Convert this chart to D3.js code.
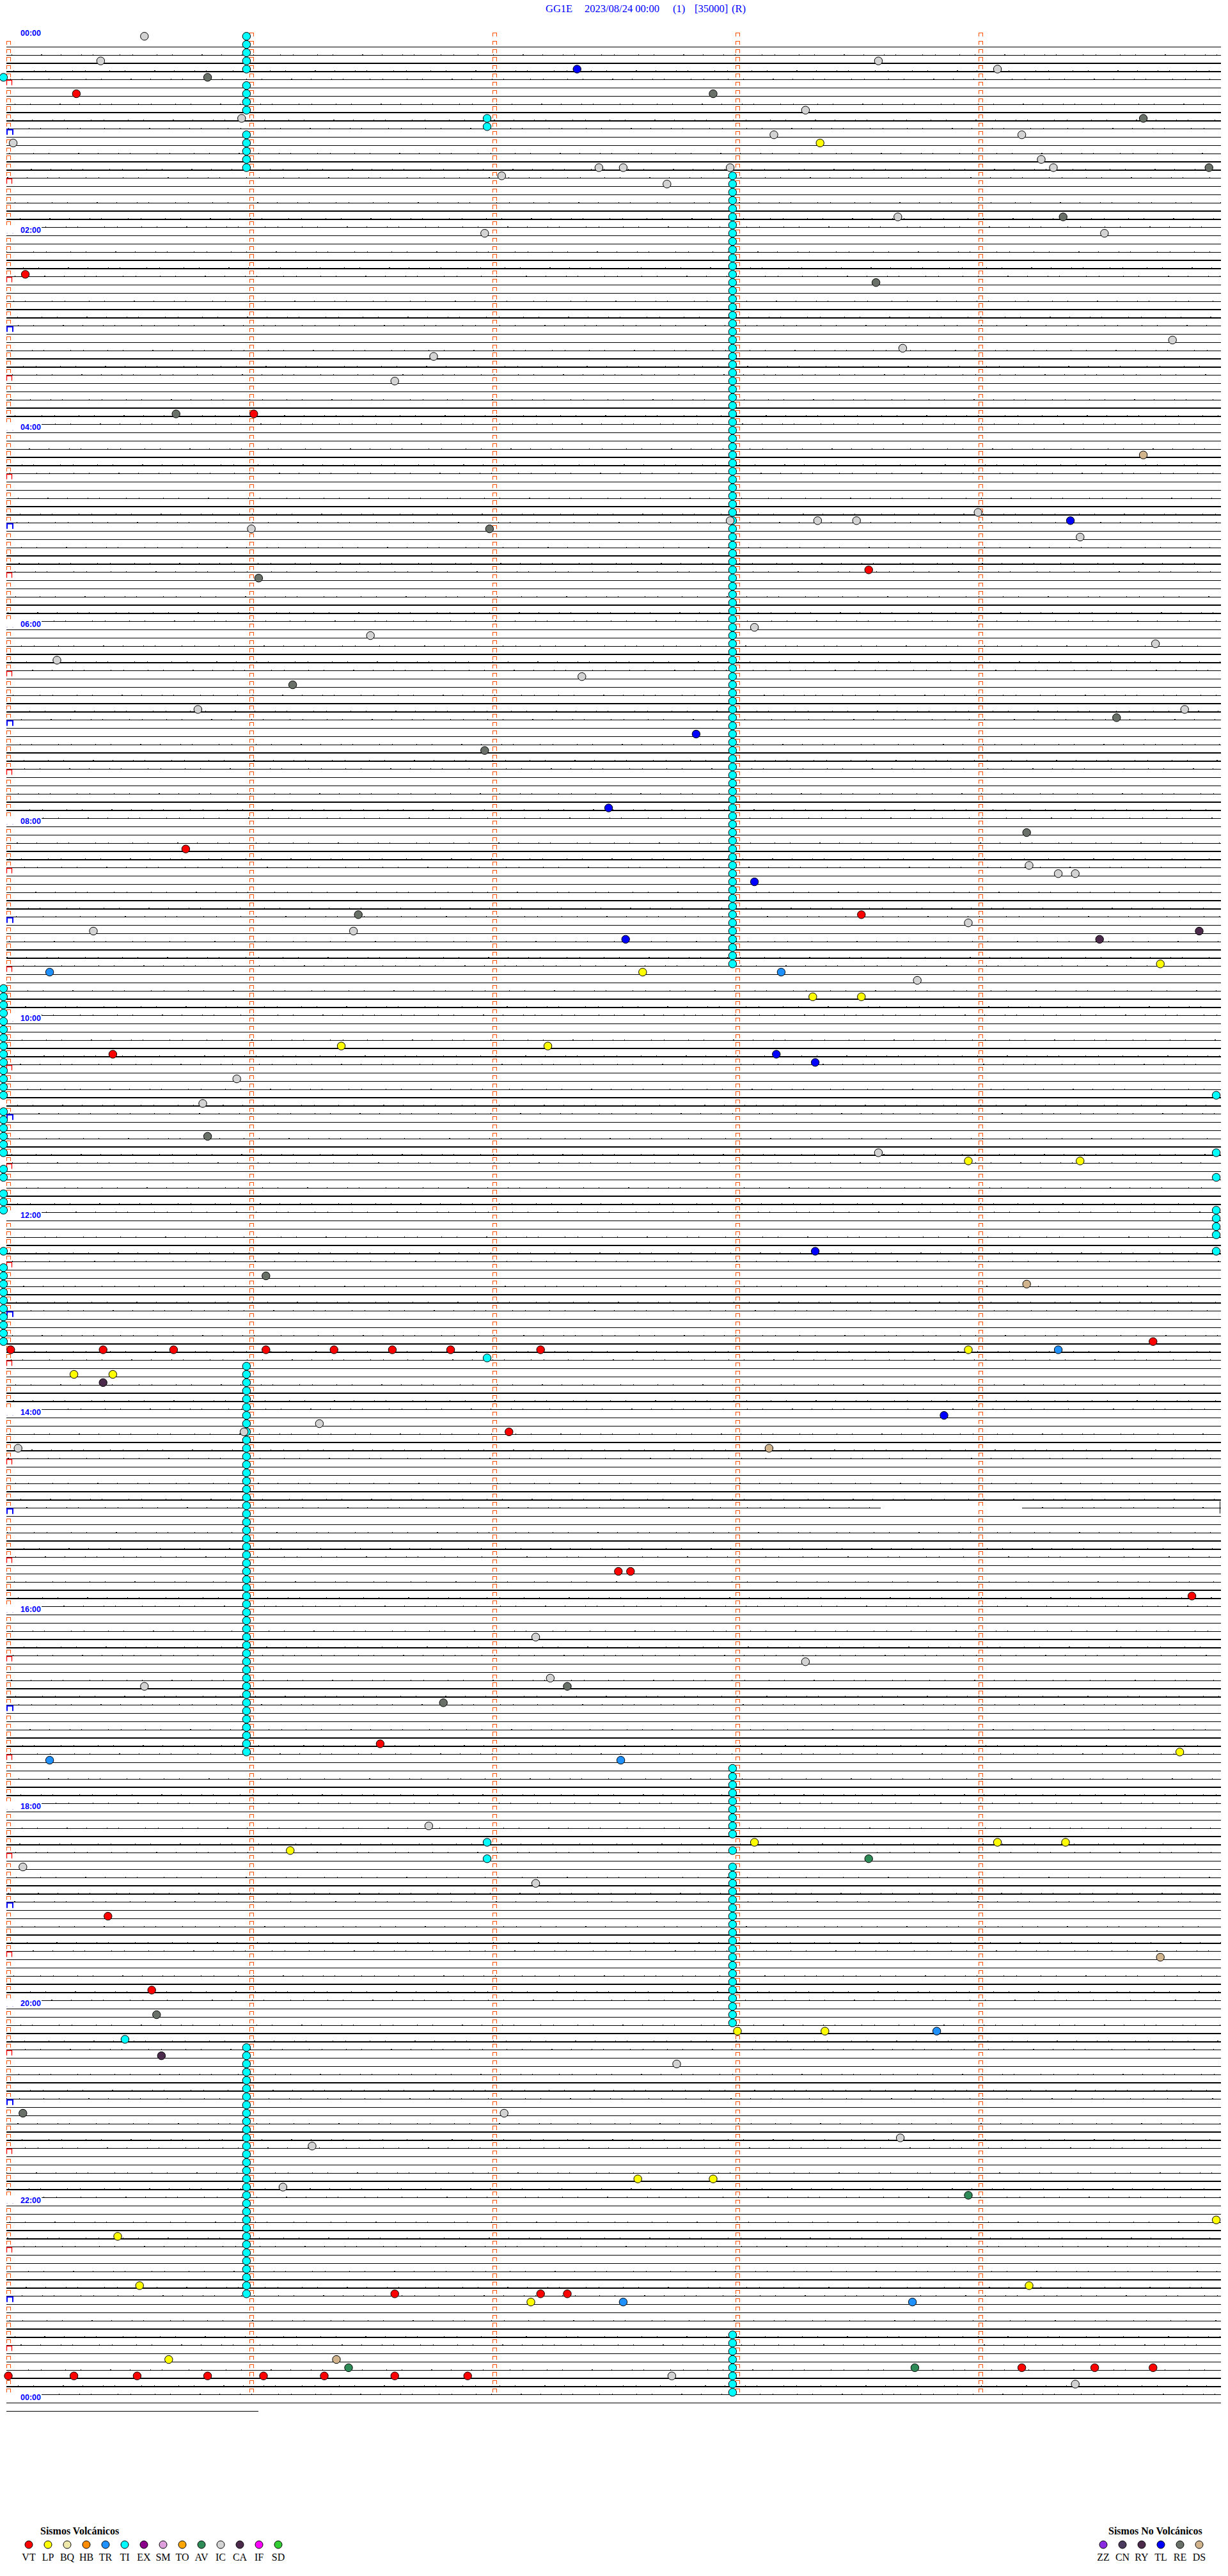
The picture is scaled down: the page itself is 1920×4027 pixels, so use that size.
<!DOCTYPE html>
<html><head><meta charset="utf-8">
<script src="https://cdn.jsdelivr.net/npm/d3@7"></script>
<style>html,body{margin:0;padding:0;background:#fff}svg{display:block}</style>
</head><body>
<script>
// ---------------- DATA ----------------
const titleParts = ["GG1E", "2023/08/24 00:00", "(1)", "[35000]", "(R)"];
const hourLabels = ["00:00","02:00","04:00","06:00","08:00","10:00","12:00","14:00","16:00","18:00","20:00","22:00","00:00"];
const minuteTicks = [0, 1, 2, 3, 4];

const volcanicTypes  = ["VT","LP","BQ","HB","TR","TI","EX","SM","TO","AV","IC","CA","IF","SD"];
const volcanicColors = ["#ff0000","#ffff00","#eee8aa","#ff8c00","#1e90ff","#00ffff","#8b008b","#dda0dd","#ffa500","#2e8b57","#d3d3d3","#4b2a4b","#ff00ff","#32cd32"];
const nonVolcanicTypes  = ["ZZ","CN","RY","TL","RE","DS"];
const nonVolcanicColors = ["#8a2be2","#4a3a5e","#4b2a4b","#0000ff","#687068","#d2b48c"];

// events: [row (5-minute line index from 00:00), minute within the row]
const VT = [[7,0.28],[29,0.07],[46,1.01],[65,3.54],[99,0.73],[107,3.51],[124,0.43],[159,4.71],
  [160,0.01],[160,0.39],[160,0.68],[160,1.06],[160,1.34],[160,1.58],[160,1.82],[160,2.19],
  [170,2.06],[187,2.51],[187,2.56],[190,4.87],[208,1.53],[229,0.41],[238,0.59],
  [275,1.59],[275,2.19],[275,2.30],[284,4.17],[284,4.47],[284,4.71],
  [285,0.0],[285,0.27],[285,0.53],[285,0.82],[285,1.05],[285,1.30],[285,1.59],[285,1.89]];
const LP = [[13,3.34],[113,4.74],[114,2.61],[117,3.31],[117,3.51],[123,1.37],[123,2.22],[137,3.95],[137,4.41],
  [160,3.95],[163,0.27],[163,0.43],[209,4.82],[220,3.07],[221,1.16],[220,4.07],[220,4.35],
  [243,3.0],[243,3.36],[261,2.59],[261,2.9],[266,4.97],[268,0.45],[274,0.54],[274,4.2],[276,2.15],[283,0.66]];
const TR = [[114,0.17],[114,3.18],[160,4.32],[210,0.17],[210,2.52],[243,3.82],[276,2.53],[276,3.72]];
const TL = [[4,2.34],[59,4.37],[85,2.83],[94,2.47],[103,3.07],[110,2.54],[124,3.16],[125,3.32],[148,3.32],[168,3.85]];
const RE = [[5,0.82],[7,2.9],[10,4.67],[16,4.94],[22,4.34],[30,3.57],[46,0.69],[60,1.98],[66,1.03],[79,1.17],
  [83,4.56],[87,1.96],[97,4.19],[107,1.44],[134,0.82],[151,1.06],[201,2.3],[203,1.79],[241,0.61],[253,0.06]];
const IC = [[0,0.56],[3,0.38],[3,3.58],[4,4.07],[9,3.28],[10,0.96],[12,3.15],[12,4.17],[13,0.02],[15,4.25],
  [16,4.3],[16,2.43],[16,2.53],[16,2.97],[17,2.03],[18,2.71],[22,3.66],[24,4.51],[24,1.96],[37,4.79],
  [38,3.68],[39,1.75],[42,1.59],[58,3.99],[59,2.97],[59,3.33],[59,3.49],[60,1.0],[61,4.41],[72,3.07],
  [73,1.49],[74,4.72],[76,0.2],[78,2.36],[82,0.78],[82,4.84],[101,4.2],[102,4.32],[102,4.39],[108,3.95],
  [109,1.42],[109,0.35],[115,3.74],[127,0.94],[130,0.8],[136,3.58],[169,1.28],[170,0.97],[172,0.04],
  [195,2.17],[198,3.28],[200,2.23],[201,0.56],[218,1.73],[223,0.06],[225,2.17],[247,2.75],[253,2.04],
  [256,3.67],[257,1.25],[262,1.13],[285,2.73],[286,4.39]];
const DS = [[51,4.67],[152,4.19],[172,3.13],[234,4.74],[283,1.35]];
const CA = [[109,4.9],[110,4.49],[164,0.39],[246,0.63]];
const AV = [[222,3.54],[263,3.95],[284,1.4],[284,3.73]];
// TI (cyan) events, listed by the row they fall on, grouped by their minute within the row
const TI_rows_0_98 = [0,1,2,3,4,6,7,8,9,12,13,14,15,16,
  162,163,164,165,166,167,168,169,170,171,172,173,174,175,176,177,178,179,180,181,182,183,184,185,186,187,
  188,189,190,191,192,193,194,195,196,197,198,199,200,201,202,203,204,205,206,207,208,209,
  245,246,247,248,249,250,251,252,253,254,255,256,257,258,259,260,261,262,263,264,265,266,267,268,269,270,
  271,272,273,274,275];
const TI_rows_2_98 = [17,18,19,20,21,22,23,24,25,26,27,28,29,30,31,32,33,34,35,36,37,38,39,40,41,42,43,44,45,
  46,47,48,49,50,51,52,53,54,55,56,57,58,59,60,61,62,63,64,65,66,67,68,69,70,71,72,73,74,75,76,77,78,79,80,
  81,82,83,84,85,86,87,88,89,90,91,92,93,94,95,96,97,98,99,100,101,102,103,104,105,106,107,108,109,110,111,112,113,
  211,212,213,214,215,216,217,218,219,221,223,224,225,226,227,228,229,230,231,232,233,234,235,236,237,238,239,240,241,242,
  280,281,282,283,284,285,286,287];
const TI_rows_1_97 = [10,11,161,220,222];
const TI_rows_start = [5,116,117,118,119,120,121,122,123,124,125,126,127,128,129,131,132,133,134,135,136,138,139,141,142,143,148,
  150,151,152,153,154,155,156,157,158,159];
const TI_rows_end = [129,136,139,143,144,145,146,148];
const TI_other = [[244,0.48]];

// data gap on one trace line (row, minute start, minute end)
const traceGaps = [[179, 3.59, 4.17]];
const lastTraceMinutes = 1.03;   // last partial trace (next day)

// ---------------- DRAW ----------------
const W = 1920, H = 4027;
const svg = d3.select("body").append("svg").attr("width", W).attr("height", H)
  .style("font-family", "'Liberation Serif', 'Times New Roman', serif");
svg.append("rect").attr("width", W).attr("height", H).attr("fill", "#fff");

const x = d3.scaleLinear().domain([0, 5]).range([13, 1913]);
const y = d3.scaleLinear().domain([0, 288]).range([51.7, 3747.7]);
const nRows = 288;

// title
const titleX = [853, 914, 1052, 1086, 1144];
const tg = svg.append("g").attr("fill", "#0000ff").attr("font-size", 16.5);
titleParts.forEach((t, i) => tg.append("text").attr("x", titleX[i]).attr("y", 19).text(t));

// trace lines
const lineG = svg.append("g").attr("stroke", "#000").attr("shape-rendering", "crispEdges");
const noiseDash = "1,19,1,37,1,23,1,45,2,29,1,31,1,17,1,41";
for (let r = 1; r <= nRows + 1; r++) {
  const ly = Math.round(y(r) + 8.6);
  const phase = r % 6;
  const thick = (phase === 3 || phase === 4);
  const xEnd = r === nRows + 1 ? x(lastTraceMinutes) : 1909;
  const gaps = traceGaps.filter(g => g[0] === r);
  let segs = [[10, xEnd]];
  gaps.forEach(g => {
    segs = segs.flatMap(s => [[s[0], x(g[1])], [x(g[2]), s[1]]]);
  });
  segs.forEach(s => {
    lineG.append("line")
      .attr("x1", s[0]).attr("x2", s[1]).attr("y1", thick ? ly : ly + 0.5).attr("y2", thick ? ly : ly + 0.5)
      .attr("stroke-width", thick ? 2 : 1);
    if ((phase === 2 || phase === 4 || phase === 5) && r <= nRows) {
      // small background noise ticks on the trace
      lineG.append("line")
        .attr("x1", s[0]).attr("x2", s[1]).attr("y1", ly - (thick ? 1.5 : 0.5)).attr("y2", ly - (thick ? 1.5 : 0.5))
        .attr("stroke-width", 1).attr("stroke-dasharray", noiseDash).attr("stroke-dashoffset", r * 37);
    }
  });
  if (gaps.length) {
    lineG.append("line").attr("x1", 1907.5).attr("x2", 1907.5).attr("y1", ly - 10).attr("y2", ly + 9)
      .attr("stroke-width", 1);
  }
}

// minute markers
const mk = svg.append("g").attr("stroke", "#ff5000").attr("fill", "none").attr("stroke-width", 1)
  .attr("shape-rendering", "crispEdges");
for (let r = 0; r < nRows; r++) {
  const yy = y(r);
  minuteTicks.forEach(k => {
    if (k === 0 && r % 6 === 0) return;
    const x0 = Math.round(x(k) - 3) + 0.5;
    mk.append("path").attr("d", `M${x0},${yy + 5.3}V${yy - 0.3}H${x0 + 5.5}V${yy + 5.3}`);
  });
}

// hour / half-hour brackets and labels
const bg = svg.append("g").attr("fill", "none");
for (let r = 0; r <= nRows; r += 6) {
  const yy = y(r);
  if (r % 24 === 0) {
    svg.append("rect").attr("x", 8).attr("y", yy - 6).attr("width", 57).attr("height", 11).attr("fill", "#fff");
  }
  if (r % 144 === 0) {
    bg.append("path").attr("d", `M11,${yy + 4.3}V${yy - 4}H29V${yy + 4.3}`)
      .attr("stroke", r === 144 ? "#008000" : "#8b0000").attr("stroke-width", 2);
  } else if (r % 12 === 0) {
    bg.append("path").attr("d", `M11,${yy + 5}V${yy - 3}H20V${yy + 5}`)
      .attr("stroke", "#0000ff").attr("stroke-width", 2);
  } else {
    bg.append("path").attr("d", `M10.5,${yy + 4.6}V${yy - 3.2}H18.5V${yy + 4.6}`)
      .attr("stroke", "#ff0000").attr("stroke-width", 1.3);
  }
  if (r % 24 === 0) {
    svg.append("text").attr("x", 32).attr("y", yy + 4.5)
      .attr("font-family", "'Liberation Sans', Arial, sans-serif").attr("font-weight", "bold")
      .attr("font-size", 12.5).attr("fill", "#0000ff").text(hourLabels[r / 24]);
  }
}

// events
const colorOf = {};
volcanicTypes.forEach((t, i) => colorOf[t] = volcanicColors[i]);
nonVolcanicTypes.forEach((t, i) => colorOf[t] = nonVolcanicColors[i]);
const events = [];
const addList = (list, type) => list.forEach(d => events.push({row: d[0], m: d[1], type}));
addList(TI_rows_0_98.map(r => [r, 0.98]), "TI");
addList(TI_rows_2_98.map(r => [r, 2.98]), "TI");
addList(TI_rows_1_97.map(r => [r, 1.97]), "TI");
addList(TI_rows_start.map(r => [r, -0.02]), "TI");
addList(TI_rows_end.map(r => [r, 4.97]), "TI");
addList(TI_other, "TI");
addList(IC, "IC"); addList(RE, "RE"); addList(DS, "DS"); addList(CA, "CA"); addList(AV, "AV");
addList(TL, "TL"); addList(TR, "TR"); addList(LP, "LP"); addList(VT, "VT");

svg.append("g").selectAll("circle").data(events).join("circle")
  .attr("cx", d => x(d.m)).attr("cy", d => y(d.row) + 5).attr("r", 6.2)
  .attr("fill", d => colorOf[d.type]).attr("stroke", "#000").attr("stroke-width", 1);

// legends
function legend(types, colors, x0, title, titleX) {
  const g = svg.append("g");
  g.append("text").attr("x", titleX).attr("y", 3962).attr("font-size", 16).attr("font-weight", "bold").text(title);
  types.forEach((t, i) => {
    const cx = x0 + i * 30;
    g.append("circle").attr("cx", cx).attr("cy", 3978).attr("r", 6).attr("fill", colors[i])
      .attr("stroke", "#000").attr("stroke-width", 1);
    g.append("text").attr("x", cx).attr("y", 4003).attr("text-anchor", "middle").attr("font-size", 16).text(t);
  });
}
legend(volcanicTypes, volcanicColors, 45, "Sismos Volcánicos", 63);
legend(nonVolcanicTypes, nonVolcanicColors, 1725, "Sismos No Volcánicos", 1733);
</script>
</body></html>
